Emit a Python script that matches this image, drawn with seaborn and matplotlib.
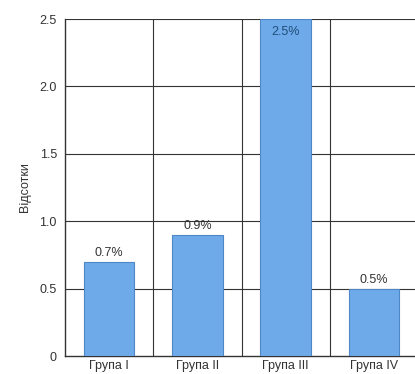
import matplotlib
matplotlib.use("Agg")
import matplotlib.pyplot as plt
import seaborn as sns
import pandas as pd
from matplotlib.ticker import FixedLocator

groups = ["Група I", "Група II", "Група III", "Група IV"]
values = [0.7, 0.9, 2.5, 0.5]
y_ticks = [0, 0.5, 1.0, 1.5, 2.0, 2.5]
y_tick_labels = ["0", "0.5", "1.0", "1.5", "2.0", "2.5"]

sns.set_style("white")
plt.rcParams["font.family"] = ["Liberation Sans", "DejaVu Sans"]

df = pd.DataFrame({"group": groups, "value": values})

fig = plt.figure(figsize=(4.15, 3.74), dpi=100)
ax = fig.add_axes([0.157, 0.048, 0.85, 0.901])

sns.barplot(data=df, x="group", y="value", color="#6eaaea", width=0.57,
            edgecolor="#4f86c6", linewidth=0.8, saturation=1, ax=ax, zorder=3)

ax.set_ylim(0, 2.5)
ax.set_xlim(-0.5, 3.5)
ax.yaxis.set_major_locator(FixedLocator(y_ticks))
ax.set_yticklabels(y_tick_labels)

# horizontal grid and vertical separators between groups
for y in y_ticks[1:]:
    ax.axhline(y, color="#333333", lw=0.8, zorder=1)
for x in [0.5, 1.5, 2.5]:
    ax.axvline(x, color="#333333", lw=0.8, zorder=1)

for s in ["left", "bottom"]:
    ax.spines[s].set_color("#333333")
    ax.spines[s].set_linewidth(1.0)
for s in ["top", "right"]:
    ax.spines[s].set_visible(False)

ax.tick_params(axis="y", length=4, color="#333333", labelsize=9, labelcolor="#333333", pad=2)
ax.tick_params(axis="x", length=0, labelsize=9, labelcolor="#333333", pad=3)
ax.set_xlabel("")
ax.set_ylabel("Відсотки", fontsize=9, color="#333333", labelpad=6)

for i, v in enumerate(values):
    label = f"{v:.1f}%"
    if v >= 2.4:
        ax.text(i, v - 0.05, label, ha="center", va="top", fontsize=9,
                color="#1f4e79", zorder=4)
    else:
        ax.text(i, v + 0.02, label, ha="center", va="bottom", fontsize=9,
                color="#333333", zorder=4)

fig.savefig("out.png", dpi=100)
